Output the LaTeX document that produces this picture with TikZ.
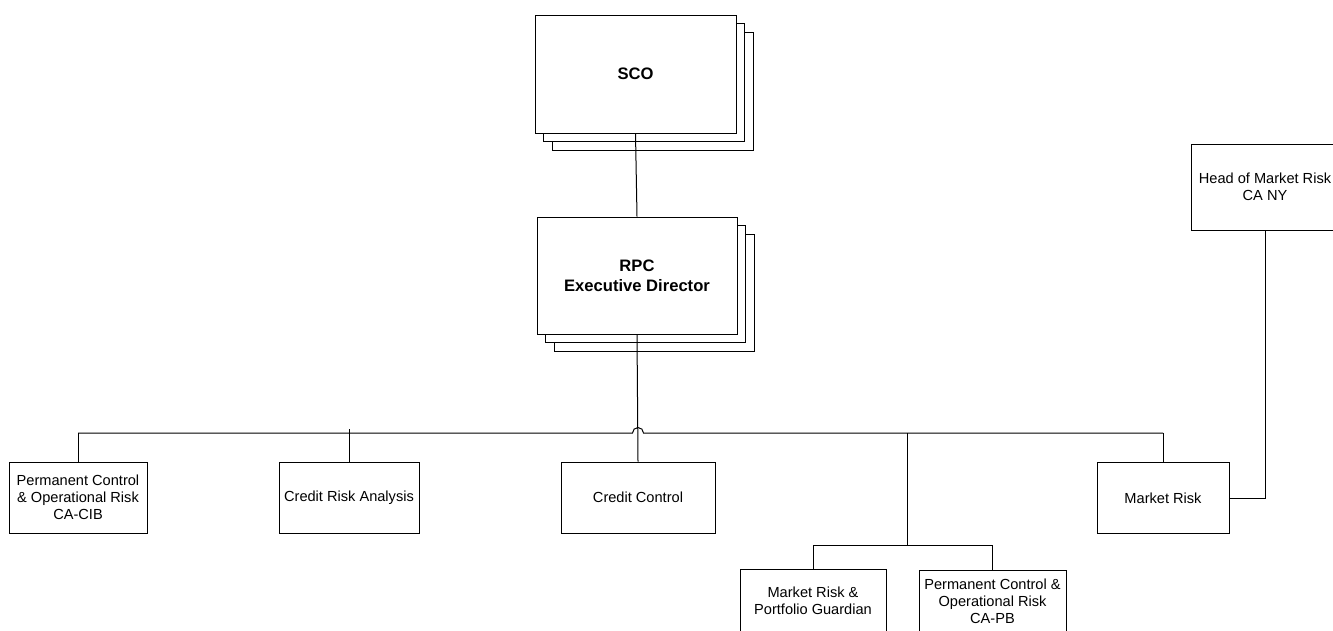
\documentclass[tikz,border=0pt]{standalone}
\usepackage{fontspec}
\setmainfont{Liberation Sans}
\usetikzlibrary{positioning,calc,shadows}

\begin{document}
\begin{tikzpicture}[x=1pt,y=1pt,line width=1pt,
   unit/.style={draw,fill=white,align=center,inner sep=1pt,
              font=\fontsize{14.6}{17}\selectfont},
   lead/.style={unit,minimum width=200pt,minimum height=117pt,
              font=\fontsize{16.6}{20}\selectfont\bfseries,
              double copy shadow={shadow xshift=8.5pt,shadow yshift=-8.5pt}},
   row/.style={unit,minimum height=71pt},
]
\useasboundingbox (0,0) rectangle (1333,-630);

\node[lead,minimum width=201pt,minimum height=118pt] (sco) at (635.5,-74) {SCO};
\node[lead] (rpc) at (637,-275.5) {RPC\\Executive Director};

\node[row,minimum width=138pt] (pcor) at (78,-497.5)  {Permanent Control\\\& Operational Risk\\CA-CIB};
\node[row,minimum width=140pt] (cra)  at (349,-497.5) {Credit Risk Analysis};
\node[row,minimum width=154pt] (cc)   at (638,-497.5) {Credit Control};
\node[row,minimum width=132pt] (mr)   at (1163,-498)  {Market Risk};
\node[unit,minimum width=148pt,minimum height=86pt] (hmr) at (1265,-187) {Head of Market Risk\\CA NY};

\node[unit,minimum width=146pt,minimum height=64pt] (mrpg) at (813,-601)   {Market Risk \&\\Portfolio Guardian};
\node[unit,minimum width=147pt,minimum height=63pt] (pcpb) at (992.5,-601.5) {Permanent Control \&\\Operational Risk\\CA-PB};

\coordinate (bus)  at (0,-433);
\coordinate (fork) at (907,-545);

\draw (sco.south) -- (rpc.north);
\draw (rpc.south) -- (cc.north);

% bus with a hop over the line from RPC
\draw (pcor.north |- bus) -- ($(cc.north |- bus)+(-5.5,0)$) arc (180:0:5.5)
      -- (mr.north |- bus);
\draw (pcor.north) -- (pcor.north |- bus);
\draw (cra.north) -- ($(cra.north |- bus)+(0,4)$);
\draw (mr.north) -- (mr.north |- bus);
\draw (fork |- bus) -- (fork);
\draw (mrpg.north) |- (fork) -| (pcpb.north);
\draw (mr.east) -| (hmr.south);
\end{tikzpicture}
\end{document}
